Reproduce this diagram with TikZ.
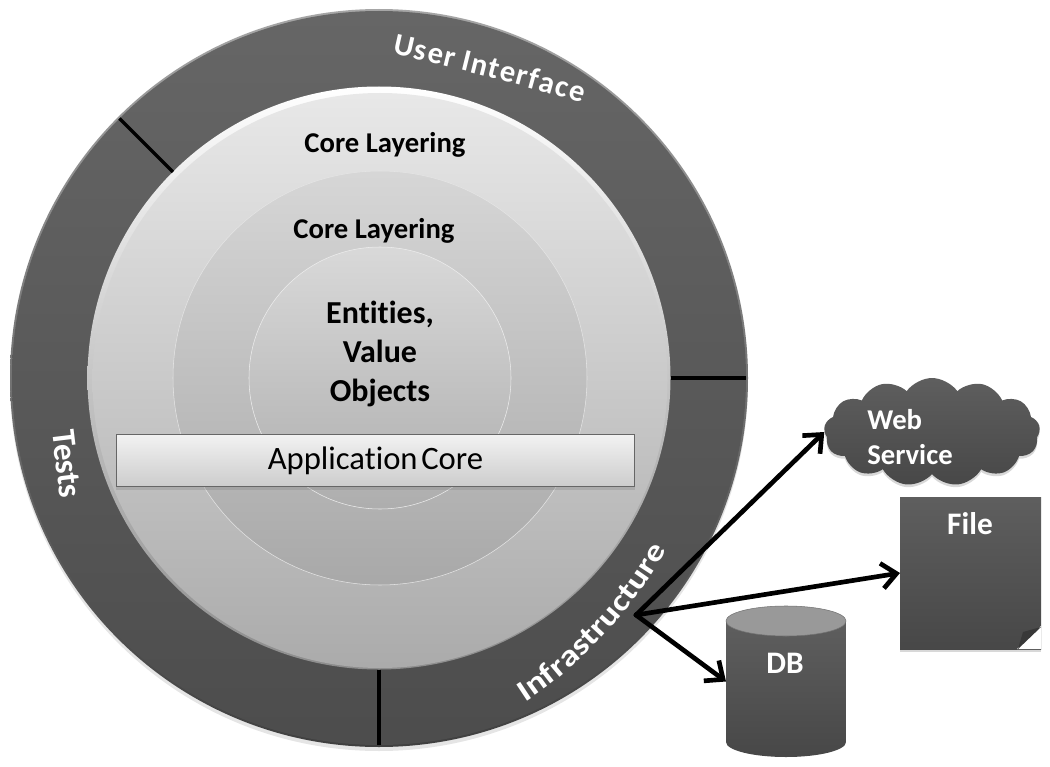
\documentclass[tikz,border=0pt]{standalone}
\usepackage{fontspec}
\setmainfont[Ligatures=NoCommon]{Carlito}
\newfontface\ringface[FakeStretch=1.2,Ligatures=NoCommon]{Carlito Bold}
\newfontface\userface[WordSpace=0.6,Ligatures=NoCommon]{Carlito Bold}
\newfontface\appface[WordSpace=0.5,Ligatures=NoCommon]{Carlito}
\usetikzlibrary{arrows.meta,calc,decorations.text,shadows,shapes.symbols}
\newcommand{\ringfont}{\ringface\fontsize{22.5}{26}\selectfont\color{white}}
\newcommand{\userfont}{\userface\fontsize{23}{26}\selectfont\color{white}}
\tikzset{
  disc/.style={circle,inner sep=0pt,outer sep=0pt,minimum size=#1*0.75pt},
  tick/.style={black,line width=2.4pt},
  dep/.style={black,line width=3.5pt,line cap=round,-{Straight Barb[length=11pt,width=19pt,line width=3.5pt]}},
  darkfill/.style={top color=black!63,bottom color=black!72},
  title/.style={font=\fontsize{21.5}{26}\selectfont\bfseries,align=center,inner sep=0pt},
  ringtitle/.style={font=\fontsize{25}{26}\selectfont\bfseries,text=white,inner sep=0pt},
  softshadow/.style={drop shadow={shadow xshift=0pt,shadow yshift=-2pt,opacity=.3}},
}
\begin{document}
\begin{tikzpicture}[x=0.75pt,y=-0.75pt]
        \useasboundingbox (0,0) rectangle (1050,767);
        \fill[white] (0,0) rectangle (1050,767);

        \node (ringshadow) at (379,382) [disc=738,fill=black,fill opacity=0.1]{};
        \node (ringrim) at (379,378) [disc=738,top color=black!35,bottom color=black!75]{};
        \node (ring) at (379,378) [disc=734,top color=black!60,bottom color=black!70]{};
        \node (corerim) at (379,378) [disc=583,top color=white,bottom color=black!45]{};
        \node (core) at (380,380.5) [disc=575,top color=black!9,bottom color=black!33]{};
        \node (middle) at (380,378) [disc=414,top color=black!16,bottom color=black!34,draw=black!10,line width=0.4pt]{};
        \node (inner) at (380,378) [disc=262,top color=black!15,bottom color=black!32,draw=black!7,line width=0.4pt]{};

        \draw[tick] (ring.135) -- (corerim.135);
        \draw[tick] (ring.0) -- (corerim.0);
        \draw[tick] (ring.-90) -- (corerim.-90);

        \node (corea) at (385,145) [title]{Core Layering};
        \node (coreb) at (374,231) [title]{Core Layering};
        \node (entities) at (380,354) [title,font=\fontsize{24}{29}\selectfont\bfseries]{Entities,\\Value\\Objects};

        \node (appcore) at (375.5,460.5) [rectangle,minimum width=389pt,minimum height=39.5pt,inner sep=0pt,
          top color=black!5,bottom color=black!20,draw=black!60,line width=0.6pt,softshadow,
          font=\appface\fontsize{24.5}{26}\selectfont]{Application Core};

        \path[decorate,decoration={text along path,text align={fit to path},
          text={|\userfont|User Interface}}]
          (392,54) .. controls (455,68) and (515,83) .. (582,103);
        \path[decorate,decoration={text along path,text align={fit to path},
          text={|\ringfont|Infrastructure}}]
          (525,702) .. controls (575,670) and (630,615) .. (667,550);
        \node (tests) at (67,464) [ringtitle,rotate=-83]{Tests};

        \node (webcloud) at (932,432) [cloud,cloud puffs=13,cloud puff arc=110,aspect=2,inner sep=0pt,
          minimum width=162pt,minimum height=81pt,darkfill,softshadow]{};
        \node (weblabel) at (910,437) [title,align=left,text=white,font=\fontsize{21.5}{26}\selectfont\bfseries]{Web\\Service};

        \node (filedoc) at (970.5,573) [rectangle,minimum width=105.75pt,minimum height=114pt,inner sep=0pt,outer sep=0pt,darkfill,softshadow]{};
        \fill[white] (filedoc.south east) -- ($(filedoc.south east)+(0,-23)$) -- ($(filedoc.south east)+(-24,0)$) -- cycle;
        \fill[black!78] ($(filedoc.south east)+(0,-22)$) -- ($(filedoc.south east)+(-18,-17)$) -- ($(filedoc.south east)+(-23,0)$) -- cycle;
        \node (filelabel) at (970,524) [title,text=white,font=\fontsize{23.5}{26}\selectfont\bfseries]{File};

        \node (dbtank) at (786,681.5) [rectangle,minimum width=90pt,minimum height=113pt,inner sep=0pt,outer sep=0pt]{};
        \shade[darkfill] (726,621) -- (726,742) arc[start angle=180,end angle=0,x radius=60,y radius=15] -- (846,621) -- cycle;
        \fill[black!40,draw=black!55,line width=0.4pt] (786,621) ellipse[x radius=60,y radius=15];
        \node (dblabel) at (785,663) [title,text=white,font=\fontsize{23.5}{26}\selectfont\bfseries]{DB};

        \coordinate (hub) at (636,615);
        \draw[dep] (hub) -- (webcloud.west);
        \draw[dep] (hub) -- (filedoc.west);
        \draw[dep] (hub) -- (dbtank.west);
      \end{tikzpicture}
\end{document}
